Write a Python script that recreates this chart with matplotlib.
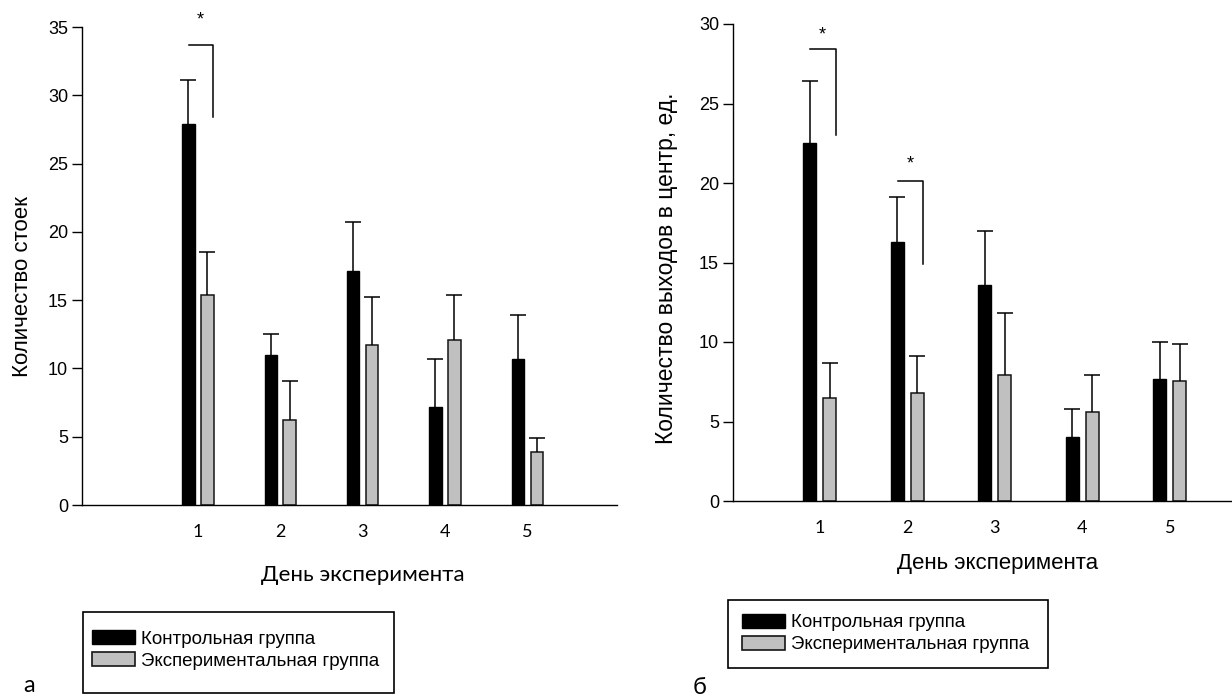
import numpy as np
import matplotlib
matplotlib.use('Agg')
import matplotlib.pyplot as plt
from matplotlib.patches import Patch, Rectangle

# data
days = [1, 2, 3, 4, 5]

# panel a - rearing count
stands_ctrl = [27.9, 11.0, 17.15, 7.15, 10.7]
stands_ctrl_err = [3.2, 1.5, 3.55, 3.55, 3.2]
stands_exp = [15.4, 6.2, 11.7, 12.1, 3.85]
stands_exp_err = [3.1, 2.9, 3.55, 3.25, 1.05]
stands_sig = [(1, 33.7, 28.4, 35.5)]  # day, bracket top, bracket bottom, star

# panel b - exits to the centre
exits_ctrl = [22.5, 16.3, 13.6, 4.0, 7.7]
exits_ctrl_err = [3.9, 2.8, 3.4, 1.8, 2.3]
exits_exp = [6.5, 6.8, 7.9, 5.6, 7.55]
exits_exp_err = [2.15, 2.35, 3.9, 2.35, 2.3]
exits_sig = [(1, 28.4, 23.0, 29.3), (2, 20.15, 14.9, 21.2)]

lab_ctrl = 'Контрольная группа'
lab_exp = 'Экспериментальная группа'

W, H = 1232, 698

def fx(x):
    return x / W

def fy(y):
    return 1 - y / H

fig = plt.figure(figsize=(12.32, 6.98), dpi=100)

ax1 = fig.add_axes([fx(82), fy(505), (617 - 82) / W, (505 - 27) / H])
ax2 = fig.add_axes([fx(733), fy(501), (1232 - 733) / W, (501 - 24) / H])

arial = 'Liberation Sans'
calibri = 'Lato'
gray = '#c0c0c0'
off = 0.115
bw = 0.15


def draw_panel(ax, ctrl, ctrl_err, exp, exp_err, sig, ymax, xlim):
    x = np.array(days, dtype=float)
    ax.bar(x - off, ctrl, bw, color='black', edgecolor='black', lw=1.0, zorder=2)
    ax.bar(x + off, exp, bw, color=gray, edgecolor='#151515', lw=1.1, zorder=2)
    for xs, v, e in [(x - off, ctrl, ctrl_err), (x + off, exp, exp_err)]:
        eb = ax.errorbar(xs, v, yerr=[np.zeros(len(e)), e], fmt='none',
                         ecolor='black', elinewidth=1.1, capsize=5.5,
                         capthick=1.1, zorder=3)
        eb[1][0].set_visible(False)  # no lower cap
    for d, top, bot, star in sig:
        ax.plot([d - 0.11, d + 0.18, d + 0.18], [top, top, bot],
                color='black', lw=1.1, clip_on=False, zorder=3)
        ax.text(d + 0.03, star, '*', ha='center', va='center',
                fontsize=13, family=arial, clip_on=False)
    ax.set_xlim(*xlim)
    ax.set_ylim(0, ymax)
    ax.set_yticks(np.arange(0, ymax + 1, 5))
    ax.set_xticks(days)
    ax.set_xticklabels([str(d) for d in days], family=calibri, fontsize=13)
    for t in ax.get_yticklabels():
        t.set_family(arial)
        t.set_fontsize(13)
    ax.tick_params(axis='x', length=0, pad=14)
    ax.tick_params(axis='y', direction='out', length=7, width=1, pad=3)
    for s in ['top', 'right']:
        ax.spines[s].set_visible(False)
    for s in ['left', 'bottom']:
        ax.spines[s].set_linewidth(1.0)
    ax.set_facecolor('none')


draw_panel(ax1, stands_ctrl, stands_ctrl_err, stands_exp, stands_exp_err,
           stands_sig, 35, (-0.407, 6.09))
draw_panel(ax2, exits_ctrl, exits_ctrl_err, exits_exp, exits_exp_err,
           exits_sig, 30, (0.008, 5.71))

# axis titles
fig.text(fx(23), fy(287), 'Количество стоек', rotation=90, ha='center',
         va='center', fontsize=16, family=arial)
fig.text(fx(667), fy(268), 'Количество выходов в центр, ед.', rotation=90,
         ha='center', va='center', fontsize=16.5, family=arial)
fig.text(fx(363), fy(575), 'День эксперимента', ha='center', va='center',
         fontsize=16, family=calibri)
fig.text(fx(998), fy(563), 'День эксперимента', ha='center', va='center',
         fontsize=16, family=arial)

# panel letters
fig.text(fx(29), fy(685), 'а', ha='center', va='center', fontsize=17, family=calibri)
fig.text(fx(700), fy(688), 'б', ha='center', va='center', fontsize=17, family=calibri)

# legends
handles = [Patch(facecolor='black', edgecolor='black', lw=1.0, label=lab_ctrl),
           Patch(facecolor=gray, edgecolor='#151515', lw=1.2, label=lab_exp)]

for (bx0, by0, bx1, by1, hx, hy) in [(83, 612, 394, 693, 92, 650),
                                     (728, 600, 1048, 668, 742, 633.5)]:
    fig.legend(handles=handles, loc='center left', bbox_to_anchor=(fx(hx), fy(hy)),
               frameon=False, borderpad=0, borderaxespad=0,
               handlelength=2.3, handleheight=0.78, handletextpad=0.3,
               labelspacing=0.25, prop={'family': arial, 'size': 13.5})
    fig.patches.append(Rectangle((fx(bx0), fy(by1)), (bx1 - bx0) / W, (by1 - by0) / H,
                                 transform=fig.transFigure, fill=False,
                                 edgecolor='black', lw=1.2))

fig.savefig('out.png', dpi=100)
